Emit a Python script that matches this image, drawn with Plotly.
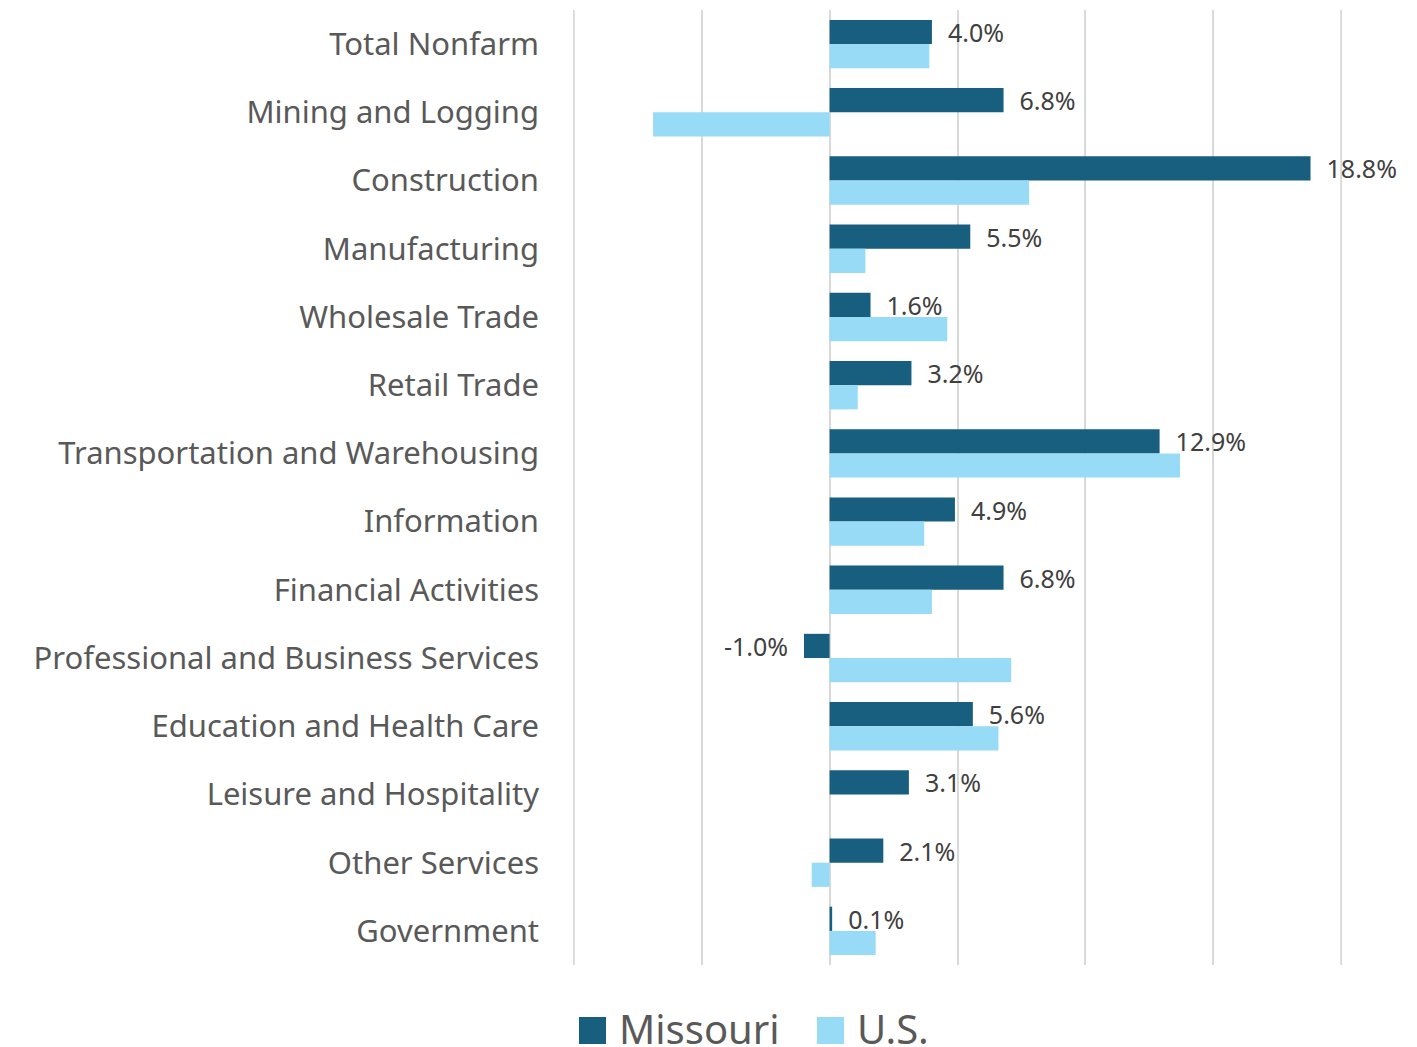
import plotly.graph_objects as go

categories = ["Total Nonfarm", "Mining and Logging", "Construction", "Manufacturing",
              "Wholesale Trade", "Retail Trade", "Transportation and Warehousing",
              "Information", "Financial Activities", "Professional and Business Services",
              "Education and Health Care", "Leisure and Hospitality", "Other Services",
              "Government"]
missouri = [4.0, 6.8, 18.8, 5.5, 1.6, 3.2, 12.9, 4.9, 6.8, -1.0, 5.6, 3.1, 2.1, 0.1]
us = [3.9, -6.9, 7.8, 1.4, 4.6, 1.1, 13.7, 3.7, 4.0, 7.1, 6.6, 0.0, -0.7, 1.8]
series_names = ["Missouri", "U.S."]
x_min, x_max = -10, 20

MO_COLOR = "#175E7F"
US_COLOR = "#97DBF7"
GRID = "#D9D9D9"
NB = "\u00a0"

# the page body adds an 8px offset; layout is specified in screen pixels
OFF = 8
W, H = 1417 - OFF, 1047 - OFF
ML, MT = 573 - OFF, 10 - OFF
MR = W - (1342 - OFF)
MB = H - (965 - OFF)
PW, PH = W - ML - MR, H - MT - MB

def px_x(p):
    return (p - OFF - ML) / PW

def px_y(p):
    return (H - MB - (p - OFF)) / PH

mo_text = [(NB * 2 + f"{v:.1f}%") if v >= 0 else (f"{v:.1f}%" + NB * 2) for v in missouri]

fig = go.Figure()
fig.add_trace(go.Bar(
    y=categories, x=missouri, orientation="h", name=series_names[0],
    marker=dict(color=MO_COLOR, line=dict(width=0)),
    text=mo_text, textposition="outside", cliponaxis=False, constraintext="none",
    textfont=dict(family="Noto Sans", size=25, color="#404040"),
))
fig.add_trace(go.Bar(
    y=categories, x=us, orientation="h", name=series_names[1],
    marker=dict(color=US_COLOR, line=dict(width=0)),
))

fig.update_layout(
    width=W, height=H,
    barmode="group", bargap=0.29, bargroupgap=0,
    plot_bgcolor="white", paper_bgcolor="white",
    margin=dict(l=ML, r=MR, t=MT, b=MB, autoexpand=False),
    showlegend=False,
    font=dict(family="Noto Sans", color="#595959"),
)
fig.update_xaxes(range=[x_min - 0.03, x_max + 0.03], dtick=5, tick0=0, showticklabels=False,
                 showgrid=True, gridcolor=GRID, gridwidth=2,
                 zeroline=True, zerolinecolor=GRID, zerolinewidth=2,
                 showline=False, ticks="", automargin=False)
fig.update_yaxes(autorange="reversed", showgrid=False, ticks="", automargin=False,
                 ticklabelstandoff=33,
                 tickfont=dict(family="Noto Sans", size=31, color="#595959"))

# edge gridlines (Plotly skips gridlines at the very edge of the range)
for xv in (x_min, x_max):
    fig.add_shape(type="line", xref="x", yref="paper", x0=xv, x1=xv, y0=0, y1=1,
                  line=dict(color=GRID, width=2), layer="below")

# legend drawn as squares + text
legend_items = [(series_names[0], MO_COLOR, 579), (series_names[1], US_COLOR, 817)]
for name, color, x0 in legend_items:
    fig.add_shape(type="rect", xref="paper", yref="paper",
                  x0=px_x(x0), x1=px_x(x0 + 27), y0=px_y(1044), y1=px_y(1017),
                  fillcolor=color, line=dict(width=0))
    fig.add_annotation(x=px_x(x0 + 38), y=px_y(1028), xref="paper", yref="paper",
                       xanchor="left", yanchor="middle", showarrow=False, text=name,
                       font=dict(family="Noto Sans", size=40, color="#595959"))

fig.write_html("out.html")
